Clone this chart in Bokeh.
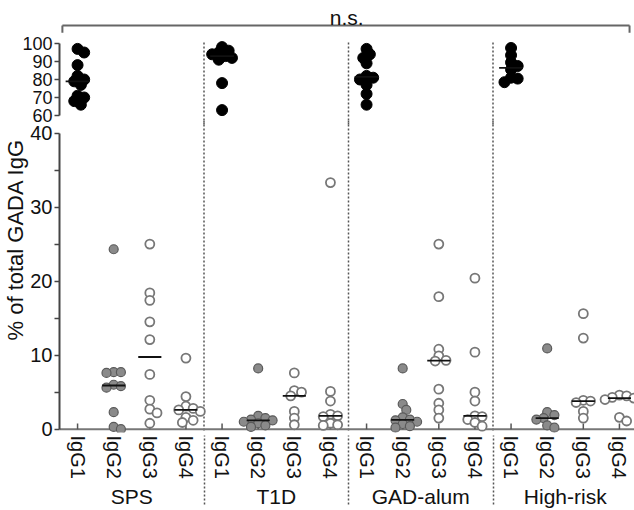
import numpy as np
from bokeh.plotting import figure
from bokeh.models import FactorRange, Range1d, FixedTicker, Title
from bokeh.layouts import column
from bokeh.embed import file_html
from bokeh.resources import INLINE

# ---------------- data ----------------
groups = ["SPS", "T1D", "GAD-alum", "High-risk"]
subclasses = ["IgG1", "IgG2", "IgG3", "IgG4"]

sps_igg1 = [97, 95, 88, 82, 80, 79, 77, 71, 70, 68, 66]
sps_igg2 = [24.3, 7.7, 7.7, 7.6, 6.0, 5.8, 5.6, 2.3, 0.3, 0.0]
sps_igg3 = [25.0, 18.4, 17.4, 14.5, 12.1, 7.4, 3.9, 2.7, 2.2, 0.8]
sps_igg4 = [9.6, 4.4, 3.1, 2.8, 2.6, 2.4, 1.6, 1.2, 0.9]

t1d_igg1 = [98, 96, 95, 94, 93, 92, 91, 78, 63]
t1d_igg2 = [8.2, 1.8, 1.5, 1.3, 1.2, 1.0, 0.8, 0.5, 0.3]
t1d_igg3 = [7.6, 5.2, 5.0, 4.5, 2.4, 1.5, 0.6]
t1d_igg4 = [33.3, 5.1, 3.8, 2.0, 1.8, 1.7, 0.8, 0.6, 0.5]

gad_igg1 = [97, 94, 92, 89, 82, 81, 80, 77, 72, 66]
gad_igg2 = [8.2, 3.4, 2.6, 1.6, 1.3, 1.2, 1.0, 0.7, 0.4, 0.2]
gad_igg3 = [25.0, 17.9, 10.8, 9.9, 9.3, 9.2, 5.4, 3.5, 2.6, 1.5]
gad_igg4 = [20.4, 10.4, 5.0, 3.8, 1.8, 1.7, 1.3, 0.9, 0.4]

hr_igg1 = [97.5, 93.5, 89.5, 87.5, 85.5, 81, 80.5, 78.5]
hr_igg2 = [10.9, 2.3, 1.9, 1.5, 1.3, 0.5, 0.2]
hr_igg3 = [15.6, 12.3, 3.9, 3.8, 3.6, 2.4, 1.5]
hr_igg4 = [4.6, 4.5, 4.3, 4.2, 4.0, 1.6, 1.1]

upper_ticks = [60, 70, 80, 90, 100]
lower_ticks = [0, 10, 20, 30, 40]
lower_minor = [5, 15, 25, 35]
y_label = "% of total GADA IgG"
sig_label = "n.s."

data = {
    "SPS": [sps_igg1, sps_igg2, sps_igg3, sps_igg4],
    "T1D": [t1d_igg1, t1d_igg2, t1d_igg3, t1d_igg4],
    "GAD-alum": [gad_igg1, gad_igg2, gad_igg3, gad_igg4],
    "High-risk": [hr_igg1, hr_igg2, hr_igg3, hr_igg4],
}

# ---------------- layout constants ----------------
FONT = "Liberation Sans"
FRAME_W = 578
BORDER_L = 55
BORDER_R = 1
PX_PER_CAT = FRAME_W / 16.0
UP_PX_PER_VAL = 1.8
LO_PX_PER_VAL = 7.4
OVERLAP = 6                      # the two panels overlap slightly (transparent lower panel)
UP_H = 126
LO_TOP = UP_H - OVERLAP
UP_RANGE = (100 - (UP_H - 43) / UP_PX_PER_VAL, 100 + 43 / UP_PX_PER_VAL)
LO_RANGE = (-0.45, 40 + (132.5 - LO_TOP) / LO_PX_PER_VAL)
LO_H = int(round((LO_RANGE[1] - LO_RANGE[0]) * LO_PX_PER_VAL))
SEP_COLOR = "#555555"
SEP_DASH = "2 2"


def swarm(vals, px_per_val, diam, step_f, min_f):
    """Deterministic beeswarm offsets (in category units)."""
    placed = []
    res = [0.0] * len(vals)
    order = sorted(range(len(vals)), key=lambda i: -vals[i])
    for i in order:
        y = vals[i] * px_per_val
        chosen = 0.0
        for k in [0, 1, -1, 2, -2, 3, -3, 4, -4]:
            x = k * diam * step_f
            if all((x - px) ** 2 + (y - py) ** 2 >= (diam * min_f) ** 2 for px, py in placed):
                chosen = x
                break
        placed.append((chosen, y))
        res[i] = chosen / PX_PER_CAT
    return res


factors = [(g, s) for g in groups for s in subclasses]
x_range = FactorRange(*factors, factor_padding=0, group_padding=0, range_padding=0)

# ---------------- upper panel (60-100) ----------------
p_top = figure(x_range=x_range, y_range=Range1d(*UP_RANGE), frame_width=FRAME_W, frame_height=UP_H,
               min_border_left=BORDER_L, min_border_right=BORDER_R, min_border_top=0, min_border_bottom=0,
               x_axis_location=None, toolbar_location=None, output_backend="svg", title=None)
p_top.outline_line_color = None
p_top.grid.visible = False
ya = p_top.yaxis[0]
ya.ticker = FixedTicker(ticks=upper_ticks, minor_ticks=[])
ya.bounds = (60, 100)
ya.axis_line_color = "#444"
ya.axis_line_width = 2
ya.major_tick_out = 5
ya.major_tick_in = 0
ya.major_tick_line_color = "#444"
ya.major_tick_line_width = 1.5
ya.minor_tick_line_color = None
ya.major_label_standoff = 2
ya.major_label_text_font = FONT
ya.major_label_text_font_size = "18px"
ya.major_label_text_color = "#111"

# separators (upper)
sep_x = [(g, "IgG1", -0.5) for g in groups[1:]] + [(groups[-1], "IgG4", 0.47)]
p_top.segment(x0=sep_x, x1=sep_x, y0=[100.6] * len(sep_x), y1=[UP_RANGE[0]] * len(sep_x),
              line_color=SEP_COLOR, line_width=1.5, line_dash=SEP_DASH)

# bracket + n.s.
br_l = (groups[0], "IgG1", -0.42)
br_r = (groups[-1], "IgG4", 0.28)
p_top.segment(x0=[br_l, br_l, br_r], x1=[br_r, br_l, br_r], y0=[110, 110, 110], y1=[110, 106, 106],
              line_color="#666", line_width=2)
p_top.text(x=[(groups[1], "IgG4", 0.45)], y=[114.6], text=[sig_label], text_align="center",
           text_baseline="alphabetic", text_font_size="21px", text_color="#111",
           text_font={"value": FONT})

up_x, up_y = [], []
med_top_x0, med_top_x1, med_top_y = [], [], []
for g in groups:
    vals = data[g][0]
    offs = swarm(vals, UP_PX_PER_VAL, 11, 0.3, 0.55)
    up_x += [(g, "IgG1", o) for o in offs]
    up_y += vals
    med_top_x0.append((g, "IgG1", -0.33))
    med_top_x1.append((g, "IgG1", 0.33))
    med_top_y.append(float(np.median(vals)))
p_top.scatter(x=up_x, y=up_y, size=11, fill_color="black", line_color="black", line_width=1)
p_top.segment(x0=med_top_x0, x1=med_top_x1, y0=med_top_y, y1=med_top_y, line_color="#111", line_width=1.8)

# ---------------- lower panel (0-40) ----------------
p_bot = figure(x_range=x_range, y_range=Range1d(*LO_RANGE), frame_width=FRAME_W, frame_height=LO_H,
               min_border_left=BORDER_L, min_border_right=BORDER_R, min_border_top=0, min_border_bottom=0,
               toolbar_location=None, output_backend="svg", title=None)
p_bot.outline_line_color = None
p_bot.grid.visible = False
p_bot.background_fill_color = None
p_bot.border_fill_color = None
p_bot.styles = {"margin-top": f"-{OVERLAP}px"}
yb = p_bot.yaxis[0]
yb.ticker = FixedTicker(ticks=lower_ticks, minor_ticks=lower_minor)
yb.bounds = (0, 40)
yb.axis_line_color = "#444"
yb.axis_line_width = 2
yb.major_tick_out = 5
yb.major_tick_in = 0
yb.minor_tick_out = 5
yb.minor_tick_in = 0
yb.major_tick_line_color = "#444"
yb.minor_tick_line_color = "#444"
yb.major_tick_line_width = 1.5
yb.minor_tick_line_width = 1.5
yb.major_label_standoff = 2
yb.major_label_text_font = FONT
yb.major_label_text_font_size = "20px"
yb.major_label_text_color = "#111"

xb = p_bot.xaxis[0]
xb.axis_line_color = None
xb.major_tick_line_color = None
xb.major_tick_out = 0
xb.major_tick_in = 0
xb.major_label_orientation = "vertical"
xb.major_label_standoff = 3
xb.major_label_text_font = FONT
xb.major_label_text_font_size = "20px"
xb.major_label_text_color = "#111"
xb.group_text_font = FONT
xb.group_text_font_size = "21px"
xb.group_text_font_style = "normal"
xb.group_text_color = "#111"
xb.separator_line_color = SEP_COLOR
xb.separator_line_width = 1.5
xb.separator_line_dash = SEP_DASH

ttl = Title(text=y_label, align="left", offset=92, standoff=0, text_font=FONT,
            text_font_size="22px", text_font_style="normal", text_color="#111")
p_bot.add_layout(ttl, "left")

# separators (lower)
p_bot.segment(x0=sep_x, x1=sep_x, y0=[LO_RANGE[1]] * len(sep_x), y1=[LO_RANGE[0]] * len(sep_x),
              line_color=SEP_COLOR, line_width=1.5, line_dash=SEP_DASH)
# zero line (x axis)
p_bot.segment(x0=[(groups[0], "IgG1", -0.5)], x1=[(groups[-1], "IgG4", 0.5)], y0=[0], y1=[0],
              line_color="#777", line_width=2)
# up ticks at categories
p_bot.segment(x0=factors, x1=factors, y0=[0] * len(factors), y1=[0.75] * len(factors),
              line_color="#555", line_width=1.5)

styles = {
    "IgG2": dict(fill_color="#8a8a8a", line_color="#5a5a5a", line_width=1.2),
    "IgG3": dict(fill_color="white", line_color="#777777", line_width=1.8),
    "IgG4": dict(fill_color="white", line_color="#777777", line_width=1.8),
}
med_x0, med_x1, med_y = [], [], []
for si, s in enumerate(subclasses[1:], start=1):
    xs, ys = [], []
    for g in groups:
        vals = data[g][si]
        offs = swarm(vals, LO_PX_PER_VAL, 9, 0.4, 0.7)
        xs += [(g, s, o) for o in offs]
        ys += vals
        med_x0.append((g, s, -0.32))
        med_x1.append((g, s, 0.32))
        med_y.append(float(np.median(vals)))
    p_bot.scatter(x=xs, y=ys, size=9, **styles[s])
p_bot.segment(x0=med_x0, x1=med_x1, y0=med_y, y1=med_y, line_color="#111", line_width=1.8)

layout = column(p_top, p_bot, spacing=0)
open("out.html", "w").write(file_html(layout, INLINE))
